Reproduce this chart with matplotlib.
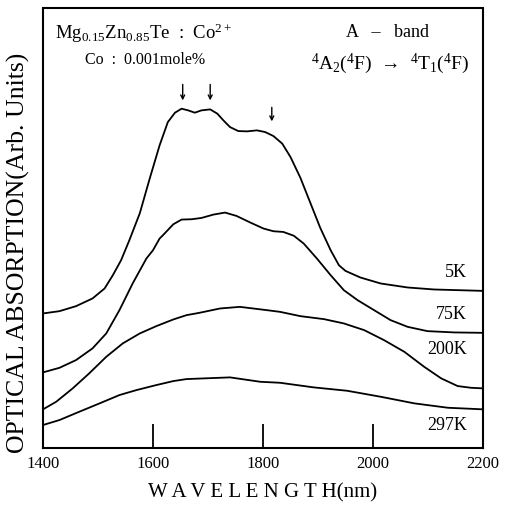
import matplotlib
matplotlib.use("Agg")
import matplotlib.pyplot as plt

plt.rcParams['font.family'] = ['Liberation Serif', 'DejaVu Serif']
plt.rcParams['mathtext.fontset'] = 'custom'
plt.rcParams['mathtext.rm'] = 'Liberation Serif'
plt.rcParams['mathtext.it'] = 'Liberation Serif:italic'
plt.rcParams['mathtext.bf'] = 'Liberation Serif:bold'

# ---- data (arbitrary absorption units) ----
wl_5k = [1400, 1430, 1460, 1490, 1512, 1527, 1542, 1557, 1576, 1594, 1612, 1627, 1640, 1652,
         1664, 1676, 1688, 1704, 1717, 1728, 1740, 1755, 1771, 1789, 1804, 1819, 1835, 1850,
         1868, 1886, 1904, 1923, 1938, 1950, 1977, 2014, 2063, 2111, 2200]
ab_5k = [134.7, 137, 142, 149.7, 159.7, 173, 188, 208, 235, 269.7, 303, 326.3, 335.7, 339.7,
         338, 335.7, 338, 339, 334.7, 328, 321.3, 317.3, 317, 318, 316.3, 312.3, 304.7, 291.3,
         270.5, 245.5, 220.5, 198, 183, 177.3, 170.7, 164.7, 160.7, 158.7, 157.3]

wl_75k = [1400, 1430, 1460, 1490, 1515, 1539, 1563, 1588, 1600, 1612, 1618, 1637, 1652, 1670,
          1688, 1710, 1731, 1752, 1777, 1801, 1819, 1837, 1856, 1874, 1898, 1923, 1947, 1972,
          2002, 2032, 2063, 2099, 2148, 2200]
ab_75k = [75.7, 80.3, 88, 99.7, 114.7, 138, 164.7, 189.7, 198, 209.7, 213, 224, 228.7, 229,
          230.3, 233.7, 235.7, 232.3, 225.7, 219.7, 217, 216.3, 212.5, 204.7, 189.7, 173, 158, 148,
          138, 128, 121.3, 117, 115.7, 115.3]

wl_200k = [1400, 1424, 1454, 1484, 1515, 1545, 1576, 1606, 1637, 1661, 1684, 1722, 1758, 1807,
           1831, 1868, 1911, 1947, 1984, 2020, 2057, 2093, 2124, 2154, 2178, 2200]
ab_200k = [38.7, 46.3, 59.7, 74.7, 91.3, 104.7, 114.7, 122, 128.7, 133, 135.3, 139.7, 141.3, 138,
           136.3, 132, 129, 124.7, 118, 108, 96.3, 81.3, 69.7, 62, 60.3, 59.7]

wl_297k = [1400, 1430, 1466, 1503, 1539, 1570, 1606, 1637, 1661, 1684, 1740, 1795, 1831, 1892,
           1953, 2014, 2075, 2136, 2200]
ab_297k = [23, 28, 36.3, 44.7, 53, 58, 63, 67, 69, 69.5, 70.7, 66.3, 65.3, 60.7,
           57.3, 51.3, 44.7, 40.3, 38.7]

series_labels = ['5K', '75K', '200K', '297K']
label_y = [176, 134, 99, 23]

arrow_wl = [1654, 1704, 1816]
arrow_top = [364, 364, 341]
arrow_bot = [348, 348, 327]

xticks = [1400, 1600, 1800, 2000, 2200]
xtick_labels = ['1400', '1600', '1800', '2000', '2200']

# ---- figure ----
fig = plt.figure(figsize=(5.09, 5.11), dpi=100)
ax = fig.add_axes([43 / 509, (511 - 448) / 511, 440 / 509, 439.5 / 511])

for wl, ab in [(wl_5k, ab_5k), (wl_75k, ab_75k), (wl_200k, ab_200k), (wl_297k, ab_297k)]:
    ax.plot(wl, ab, color='black', lw=1.3, solid_joinstyle='round')

ax.set_xlim(1400, 2200)
ax.set_ylim(0, 440)
ax.set_xticks(xticks)
ax.set_xticklabels(xtick_labels)
ax.set_yticks([])
ax.tick_params(axis='x', direction='in', length=17, width=1.3, labelsize=12, pad=6)
for s in ax.spines.values():
    s.set_linewidth(1.5)

for lab, y in zip(series_labels, label_y):
    ax.text(2171, y, lab, ha='right', va='center', fontsize=13)

for x, yt, yb in zip(arrow_wl, arrow_top, arrow_bot):
    ax.annotate('', xy=(x, yb), xytext=(x, yt),
                arrowprops=dict(arrowstyle='->', color='black', lw=1.0,
                                shrinkA=0, shrinkB=0, mutation_scale=7))

ax.text(0.027, 0.944, 'Mg$_{0.15}$Zn$_{0.85}$Te  :  Co$^{2+}$', transform=ax.transAxes,
        ha='left', va='center', fontsize=13.5)
ax.text(0.095, 0.883, 'Co  :  0.001mole%', transform=ax.transAxes,
        ha='left', va='center', fontsize=11.5)
ax.text(0.782, 0.946, 'A   \u2013   band', transform=ax.transAxes,
        ha='center', va='center', fontsize=13)
ax.text(0.789, 0.874, '$^4$A$_2$($^4$F)  \u2192  $^4$T$_1$($^4$F)', transform=ax.transAxes,
        ha='center', va='center', fontsize=14)

ax.set_xlabel('W A V E L E N G T H(nm)', fontsize=15, labelpad=8)
ax.set_ylabel('OPTICAL ABSORPTION(Arb. Units)', fontsize=18.5)
ax.yaxis.set_label_coords(-0.03, 0.443)

fig.savefig('out.png', dpi=100)
